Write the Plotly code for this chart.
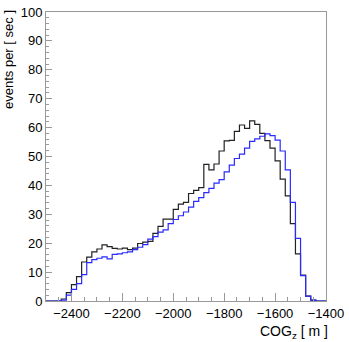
import plotly.graph_objects as go

bin_start = -2500
bin_width = 20
black_counts = [0, 0, 0, 0.7, 2.9, 5.7, 8.4, 13.5, 15.2, 17.0, 18.0, 19.4, 18.8, 18.2, 18.0,
                18.3, 17.8, 18.3, 19.9, 20.4, 20.6, 23.4, 25.8, 28.3, 28.3, 31.7, 33.5, 34.1,
                37.2, 38.3, 39.2, 47.3, 45.4, 47.4, 51.9, 55.4, 55.6, 58.7, 60.9, 59.7, 62.3,
                61.1, 58.0, 55.5, 52.9, 48.5, 42.2, 36.4, 26.8, 16.3, 9.0, 1.7, 0.3, 0, 0]
blue_counts = [0, 0, 0, 0.3, 2.0, 4.0, 6.0, 9.1, 13.3, 14.3, 14.8, 15.3, 14.6, 16.1, 16.3,
               16.7, 17.0, 17.8, 18.6, 19.5, 21.4, 22.3, 23.8, 24.6, 26.8, 28.2, 29.5, 30.8,
               32.5, 34.5, 35.8, 37.5, 39.0, 40.8, 42.0, 44.7, 47.0, 49.3, 50.8, 52.9, 55.2,
               56.1, 57.0, 57.8, 57.2, 55.7, 51.9, 45.4, 34.1, 21.7, 8.8, 1.7, 0.3, 0, 0]
x_ticks = [-2400, -2200, -2000, -1800, -1600, -1400]
y_ticks = [0, 10, 20, 30, 40, 50, 60, 70, 80, 90, 100]

n = len(black_counts)
edges = [bin_start + bin_width * i for i in range(n + 1)]

def step(vals):
    return edges, list(vals) + [vals[-1]]

fig = go.Figure()
bx, by = step(black_counts)
fig.add_trace(go.Scatter(x=bx, y=by, mode="lines", line=dict(shape="hv", color="#222222", width=1.2),
                         showlegend=False, hoverinfo="skip", cliponaxis=False))
ux, uy = step(blue_counts)
fig.add_trace(go.Scatter(x=ux, y=uy, mode="lines", line=dict(shape="hv", color="#2a2aff", width=1.2),
                         showlegend=False, hoverinfo="skip", cliponaxis=False))

font = dict(family="Liberation Sans, Arial, sans-serif", size=13, color="black")
axis_common = dict(showgrid=False, zeroline=False, showline=True, linecolor="#999999", linewidth=1,
                   mirror=True, ticks="inside", tickcolor="#999999", tickfont=font,
                   ticklabeloverflow="allow")

fig.update_layout(
    width=349, height=342,
    margin=dict(l=46, r=18, t=5, b=41),
    paper_bgcolor="white", plot_bgcolor="white",
    xaxis=dict(range=[-2500, -1400], tickvals=x_ticks, ticklen=8,
               minor=dict(ticks="inside", ticklen=4, dtick=50, tickcolor="#999999"),
               **axis_common),
    yaxis=dict(range=[0, 100], tickvals=y_ticks, ticklen=6,
               minor=dict(ticks="inside", ticklen=3, dtick=2, tickcolor="#999999"),
               **axis_common),
    annotations=[
        dict(text="COG<sub>z</sub> [ m ]", xref="paper", yref="paper", x=1.0, y=0, xanchor="right",
             yanchor="top", yshift=-20, xshift=4, showarrow=False,
             font=dict(family="Liberation Sans, Arial, sans-serif", size=14, color="black")),
        dict(text="events per [ sec ]", xref="paper", yref="paper", x=0, y=1.0, xanchor="right",
             yanchor="top", xshift=-28, yshift=4, textangle=-90, showarrow=False, font=font),
    ],
)

fig.write_html("out.html", config={"displayModeBar": False},
               post_script="document.body.style.margin='0';document.body.style.padding='0';")
